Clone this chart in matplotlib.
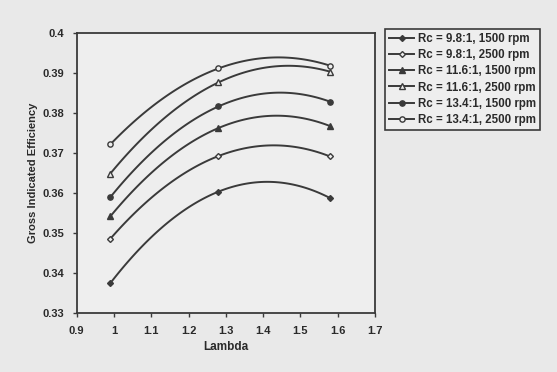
import numpy as np
import matplotlib
matplotlib.use('Agg')
import matplotlib.pyplot as plt

# lambda values where the points were measured
lam = [0.99, 1.28, 1.58]

labels = ['Rc = 9.8:1, 1500 rpm', 'Rc = 9.8:1, 2500 rpm',
          'Rc = 11.6:1, 1500 rpm', 'Rc = 11.6:1, 2500 rpm',
          'Rc = 13.4:1, 1500 rpm', 'Rc = 13.4:1, 2500 rpm']

eff_98_1500 = [0.3375, 0.3604, 0.3588]
eff_98_2500 = [0.3486, 0.3693, 0.3692]
eff_116_1500 = [0.3542, 0.3763, 0.3768]
eff_116_2500 = [0.3649, 0.3877, 0.3904]
eff_134_1500 = [0.3590, 0.3817, 0.3829]
eff_134_2500 = [0.3722, 0.3912, 0.3919]

series = [eff_98_1500, eff_98_2500, eff_116_1500,
          eff_116_2500, eff_134_1500, eff_134_2500]

x_ticks = [0.9, 1.0, 1.1, 1.2, 1.3, 1.4, 1.5, 1.6, 1.7]
x_ticklabels = ['0.9', '1', '1.1', '1.2', '1.3', '1.4', '1.5', '1.6', '1.7']
y_ticks = [0.33, 0.34, 0.35, 0.36, 0.37, 0.38, 0.39, 0.40]
y_ticklabels = ['0.33', '0.34', '0.35', '0.36', '0.37', '0.38', '0.39', '0.4']

ink = '#3a3a3a'
paper = '#e9e9e9'
inner = '#eeeeee'
markers = ['D', 'D', '^', '^', 'o', 'o']
filled = [True, False, True, False, True, False]
sizes = {'D': 3.0, '^': 4.0, 'o': 3.8}

plt.rcParams['font.family'] = ['Liberation Sans', 'DejaVu Sans']
plt.rcParams['font.weight'] = 'bold'

fig = plt.figure(figsize=(5.57, 3.72), dpi=100, facecolor=paper)
ax = fig.add_axes([0.1377, 0.1578, 0.5353, 0.7527])
ax.set_facecolor(inner)

for vals, lab, mk, fl in zip(series, labels, markers, filled):
    # smooth line through the three points, like the spreadsheet's smoothing
    coef = np.polyfit(lam, vals, 2)
    xs = np.linspace(lam[0], lam[-1], 100)
    ax.plot(xs, np.polyval(coef, xs), color=ink, lw=1.4, zorder=2)
    ms = sizes[mk]
    ax.plot(lam, vals, ls='none', marker=mk, ms=ms, mew=1.0, mec=ink,
            mfc=ink if fl else inner, zorder=3)
    ax.plot([], [], color=ink, lw=1.4, marker=mk, ms=ms, mew=1.0,
            mec=ink, mfc=ink if fl else inner, label=lab)

ax.set_xlim(0.9, 1.7)
ax.set_ylim(0.33, 0.40)
ax.set_xticks(x_ticks)
ax.set_xticklabels(x_ticklabels)
ax.set_yticks(y_ticks)
ax.set_yticklabels(y_ticklabels)
ax.tick_params(axis='both', direction='out', length=3, width=1,
               colors=ink, labelsize=8, pad=6)
for lbl in ax.get_xticklabels() + ax.get_yticklabels():
    lbl.set_fontweight('bold')
    lbl.set_color('#2a2a2a')
for sp in ax.spines.values():
    sp.set_color(ink)
    sp.set_linewidth(1.3)

ax.set_xlabel('Lambda', fontsize=8.5, fontweight='bold', color='#2a2a2a', labelpad=4)
ax.set_ylabel('Gross Indicated Efficiency', fontsize=8, fontweight='bold',
              color='#2a2a2a', labelpad=3)

leg = fig.legend(loc='upper left', bbox_to_anchor=(0.691, 0.922),
                 fontsize=8.3, frameon=True, fancybox=False, framealpha=1,
                 handlelength=2.2, handletextpad=0.3, borderpad=0.35,
                 labelspacing=0.36, borderaxespad=0)
leg.get_frame().set_edgecolor(ink)
leg.get_frame().set_linewidth(1.2)
leg.get_frame().set_facecolor(inner)
for t in leg.get_texts():
    t.set_color('#2a2a2a')

fig.savefig('out.png', dpi=100, facecolor=paper)
